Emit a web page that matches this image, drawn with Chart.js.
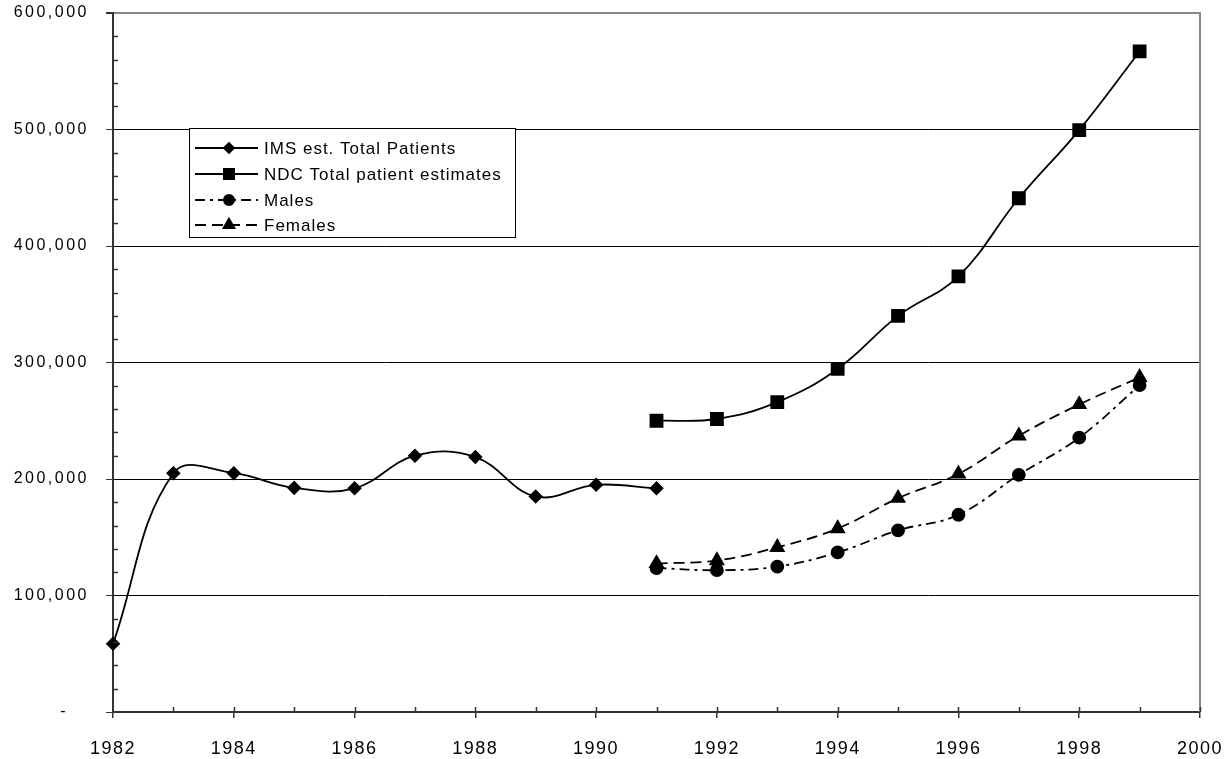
<!DOCTYPE html>
<html><head><meta charset="utf-8">
<script src="https://cdn.jsdelivr.net/npm/chart.js@4.4.1/dist/chart.umd.min.js"></script>
<style>html,body{margin:0;padding:0;background:#fff;}#wrap{width:1228px;height:759px;}</style>
</head><body><div id="wrap"><canvas id="c" width="1228" height="759"></canvas></div>
<script>
// ---- data ----
const imsYears = [1982, 1983, 1984, 1985, 1986, 1987, 1988, 1989, 1990, 1991];
const imsPatients = [58500, 205000, 205000, 192400, 192000, 220000, 218800, 185000, 195000, 192000];
const laterYears = [1991, 1992, 1993, 1994, 1995, 1996, 1997, 1998, 1999];
const ndcPatients = [250000, 251500, 266000, 294500, 340000, 374000, 441000, 499500, 567000];
const malePatients = [123600, 121700, 124800, 137000, 155900, 169300, 203600, 235500, 280500];
const femalePatients = [127500, 130000, 141400, 157500, 183500, 204400, 237100, 264000, 287200];
const seriesNames = ['IMS est. Total Patients', 'NDC Total patient estimates', 'Males', 'Females'];
const xMin = 1982, xMax = 2000, xLabelStep = 2;
const yMin = 0, yMax = 600000, yLabelStep = 100000, yMinorStep = 20000;

const pts = (xs, ys) => xs.map((x, i) => ({x, y: ys[i]}));
const FONT = "'Liberation Sans', Arial, sans-serif";

const decor = {
  id: 'decor',
  afterLayout(chart) {
    const ctx = chart.ctx;
    [['x', '1.5px'], ['y', '2.5px']].forEach(([id, sp]) => {
      const s = chart.scales[id];
      if (s && !s._spWrapped) {
        const orig = s.drawLabels.bind(s);
        s.drawLabels = function (area) {
          ctx.save(); ctx.letterSpacing = sp; orig(area); ctx.restore();
        };
        s._spWrapped = true;
      }
    });
  },
  afterDraw(chart) {
    const {ctx, chartArea: a, scales: {x, y}} = chart;
    ctx.save();
    // right frame
    ctx.strokeStyle = '#888'; ctx.lineWidth = 2;
    ctx.beginPath(); ctx.moveTo(a.right, a.top - 1); ctx.lineTo(a.right, a.bottom); ctx.stroke();
    // minor / inner ticks
    ctx.strokeStyle = '#333'; ctx.lineWidth = 1.5;
    ctx.beginPath();
    for (let v = yMin + yMinorStep; v < yMax; v += yMinorStep) {
      if (v % yLabelStep === 0) continue;
      const py = Math.round(y.getPixelForValue(v)) + 0.5;
      ctx.moveTo(a.left, py); ctx.lineTo(a.left + 5, py);
    }
    for (let v = xMin + 1; v <= xMax; v++) {
      const px = Math.round(x.getPixelForValue(v)) + 0.5;
      ctx.moveTo(px, a.bottom); ctx.lineTo(px, a.bottom - 5);
    }
    ctx.stroke();
    // legend
    const bx = 189.5, by = 128.5, bw = 326, bh = 109;
    ctx.fillStyle = '#fff'; ctx.fillRect(bx, by, bw, bh);
    ctx.strokeStyle = '#000'; ctx.lineWidth = 1; ctx.strokeRect(bx, by, bw, bh);
    const rows = [148, 174, 200, 225];
    chart.data.datasets.forEach((ds, i) => {
      const ry = rows[i];
      ctx.save();
      ctx.strokeStyle = ds.borderColor; ctx.lineWidth = ds.borderWidth;
      ctx.setLineDash(ds.borderDash || []);
      ctx.beginPath(); ctx.moveTo(195, ry); ctx.lineTo(258, ry); ctx.stroke();
      ctx.setLineDash([]);
      ctx.fillStyle = '#000'; ctx.strokeStyle = '#000';
      Chart.helpers.drawPoint(ctx, {pointStyle: ds.pointStyle, rotation: 0, borderWidth: 1, radius: ds.pointRadius * 0.85}, 229, ry);
      ctx.restore();
      ctx.save();
      ctx.letterSpacing = '1px';
      ctx.font = '17px ' + FONT; ctx.fillStyle = '#000'; ctx.textBaseline = 'middle'; ctx.textAlign = 'left';
      ctx.fillText(ds.label, 264, ry + 1);
      ctx.restore();
    });
    ctx.restore();
  }
};

const zeroPad = s => { s.paddingTop = 0; s.paddingBottom = 0; s.paddingLeft = 0; s.paddingRight = 0; };

const base = {borderColor: '#000', backgroundColor: '#000', pointBackgroundColor: '#000', pointBorderColor: '#000',
  borderWidth: 1.8, tension: 0.4, clip: false, fill: false};

const chart = new Chart(document.getElementById('c'), {
  type: 'line',
  data: {
    datasets: [
      Object.assign({}, base, {label: seriesNames[0], data: pts(imsYears, imsPatients), pointStyle: 'rectRot', pointRadius: 6}),
      Object.assign({}, base, {label: seriesNames[1], data: pts(laterYears, ndcPatients), pointStyle: 'rect', pointRadius: 8.5}),
      Object.assign({}, base, {label: seriesNames[2], data: pts(laterYears, malePatients), pointStyle: 'circle', pointRadius: 6, borderDash: [10, 5, 3, 5]}),
      Object.assign({}, base, {label: seriesNames[3], data: pts(laterYears, femalePatients), pointStyle: 'triangle', pointRadius: 7.5, borderDash: [11, 6]})
    ]
  },
  options: {
    responsive: false, animation: false, devicePixelRatio: 1,
    layout: {padding: {top: 13, right: 28, left: 0, bottom: 0}},
    plugins: {legend: {display: false}, tooltip: {enabled: false}},
    scales: {
      x: {
        type: 'linear', min: xMin, max: xMax,
        afterFit(s) { s.height = 47; zeroPad(s); },
        ticks: {stepSize: 1, autoSkip: false, maxRotation: 0, color: '#000', padding: 20,
          font: {family: FONT, size: 18},
          callback: v => (v % xLabelStep === 0 ? String(v) : '')},
        grid: {drawOnChartArea: false, tickLength: 6, lineWidth: 1.5,
          tickColor: c => (c.tick && c.tick.value % xLabelStep === 0 ? '#333' : 'rgba(0,0,0,0)')},
        border: {display: true, color: '#333', width: 2}
      },
      y: {
        type: 'linear', min: yMin, max: yMax,
        afterFit(s) { s.width = 113; zeroPad(s); },
        ticks: {stepSize: yMinorStep, autoSkip: false, color: '#000', padding: 17,
          font: {family: FONT, size: 16},
          callback: v => (v % yLabelStep !== 0 ? '' : (v === 0 ? '-   ' : v.toLocaleString('en-US')))},
        grid: {tickLength: 7, lineWidth: c => (c.tick && c.tick.value === yMax ? 2 : 1),
          color: c => (c.tick && c.tick.value % yLabelStep === 0 ? (c.tick.value === yMax ? '#888' : '#000') : 'rgba(0,0,0,0)'),
          tickColor: c => (c.tick && c.tick.value % yLabelStep === 0 ? '#333' : 'rgba(0,0,0,0)')},
        border: {display: true, color: '#333', width: 2}
      }
    }
  },
  plugins: [decor]
});
</script>
</body></html>
